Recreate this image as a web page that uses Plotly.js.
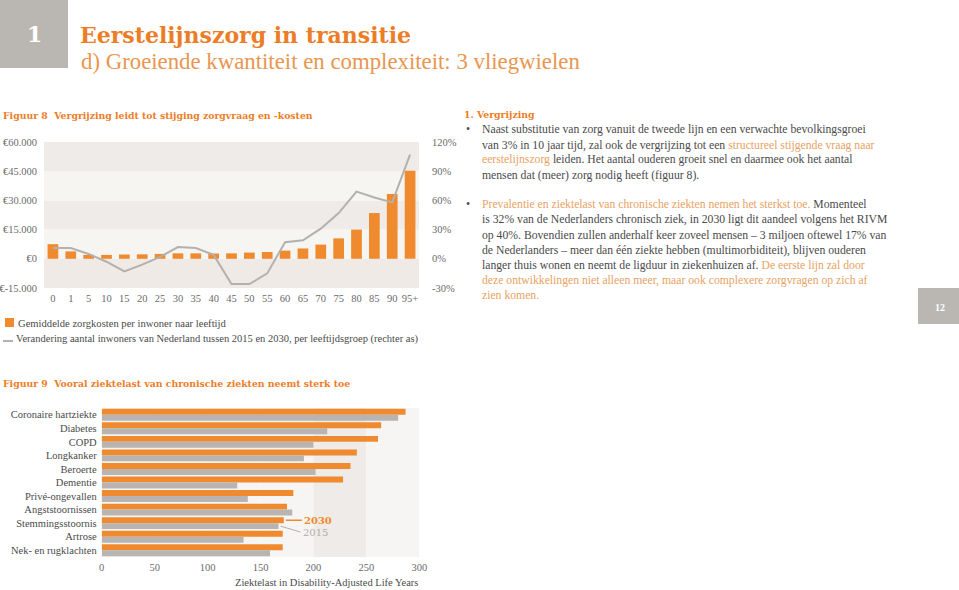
<!DOCTYPE html>
<html><head><meta charset="utf-8">
<script src="https://cdn.plot.ly/plotly-3.0.1.min.js"></script>
<style>html,body{margin:0;padding:0;background:#fff;}#chart{width:959px;height:590px;}</style>
</head><body><div id="chart"></div>
<script>
// ---- Figure 8 data ----
const ageGroups = ['0','1','5','10','15','20','25','30','35','40','45','50','55','60','65','70','75','80','85','90','95+'];
const avgCosts = [7500,3800,2000,2000,2200,2300,2500,2800,2800,2700,2800,3200,3500,4200,5300,7300,10500,15000,23500,33300,45200];
const popChange = [11,11,5,-3,-13,-6,2,12,11,4,-26,-26,-15,17,19,31,47,69,63,58,107];
const costTicks = [-15000,0,15000,30000,45000,60000];
const costTickText = ['€-15.000','€0','€15.000','€30.000','€45.000','€60.000'];
const pctTicks = [-30,0,30,60,90,120];
const pctTickText = ['-30%','0%','30%','60%','90%','120%'];

// ---- Figure 9 data ----
const diseases = ['Coronaire hartziekte','Diabetes','COPD','Longkanker','Beroerte','Dementie','Privé-ongevallen','Angststoornissen','Stemmingsstoornis','Artrose','Nek- en rugklachten'];
const daly2030 = [287,264,261,241,235,228,181,175,172,171,171];
const daly2015 = [280,213,200,191,202,128,138,180,167,134,159];
const dalyTicks = [0,50,100,150,200,250,300];

const W = 959, H = 590;
const px = x => x / W, py = y => 1 - y / H;
const ORANGE = '#f08a2e', GRAYBAR = '#b7b4b1', GRAYLINE = '#b3b0ad';
const TXT = '#4a4a4a', HL = '#e8a264', TITLE = '#ec7d27';
const SERIF = 'Liberation Serif', SLAB = 'DejaVu Serif';

const traces = [
  {type:'bar', x: ageGroups, y: avgCosts, xaxis:'x', yaxis:'y', width:0.6, marker:{color:ORANGE}, showlegend:false, hoverinfo:'skip'},
  {type:'scatter', mode:'lines', x: ageGroups, y: popChange, xaxis:'x', yaxis:'y2', line:{color:GRAYLINE, width:2}, showlegend:false, hoverinfo:'skip'},
  {type:'bar', orientation:'h', y: diseases, x: daly2030, xaxis:'x2', yaxis:'y3', marker:{color:ORANGE}, showlegend:false, hoverinfo:'skip'},
  {type:'bar', orientation:'h', y: diseases, x: daly2015, xaxis:'x2', yaxis:'y3', marker:{color:GRAYBAR}, showlegend:false, hoverinfo:'skip'}
];

const shapes = [];
// header boxes
shapes.push({type:'rect', xref:'paper', yref:'paper', x0:0, x1:px(68), y0:py(68), y1:py(0), fillcolor:'#bab7b3', line:{width:0}});
shapes.push({type:'rect', xref:'paper', yref:'paper', x0:px(918), x1:px(959), y0:py(324), y1:py(288), fillcolor:'#bab7b3', line:{width:0}});
// figure 8 background bands
const bands8 = ['#efeae6','#f6f5f2','#eeebe8','#f6f5f2','#eeebe8'];
for (let i = 0; i < costTicks.length - 1; i++) {
  shapes.push({type:'rect', xref:'x domain', yref:'y', x0:0, x1:1, y0:costTicks[i], y1:costTicks[i+1], fillcolor:bands8[i], line:{width:0}, layer:'below'});
}
// figure 9 background bands
const bands9 = ['#f6f5f3','#f6f5f3','#f6f5f3','#f6f5f3','#eeebe8','#f6f5f3'];
for (let i = 0; i < dalyTicks.length - 1; i++) {
  shapes.push({type:'rect', xref:'x2', yref:'y3 domain', x0:dalyTicks[i], x1:dalyTicks[i+1], y0:0, y1:1, fillcolor:bands9[i], line:{width:0}, layer:'below'});
}
// legend swatches fig 8
shapes.push({type:'rect', xref:'paper', yref:'paper', x0:px(5), x1:px(14), y0:py(327), y1:py(318), fillcolor:ORANGE, line:{width:0}});
shapes.push({type:'line', xref:'paper', yref:'paper', x0:px(3), x1:px(13), y0:py(341), y1:py(341), line:{color:GRAYLINE, width:2}});

function txt(x, y, text, size, color, opts) {
  return Object.assign({xref:'paper', yref:'paper', x:px(x), y:py(y), text:text, showarrow:false,
    xanchor:'left', yanchor:'middle', align:'left', font:{family:SERIF, size:size, color:color}}, opts || {});
}
const hl = s => '<span style="color:' + HL + '">' + s + '</span>';
const BS = 11.7;

const annotations = [
  txt(34, 34, '<b>1</b>', 22, '#ffffff', {xanchor:'center', font:{family:SLAB, size:22, color:'#ffffff'}}),
  txt(78, 35, '<b>Eerstelijnszorg in transitie</b>', 22, TITLE, {font:{family:SLAB, size:22, color:TITLE}}),
  txt(79, 61, 'd) Groeiende kwantiteit en complexiteit: 3 vliegwielen', 22.8, '#e99650'),
  txt(1, 115, '<b>Figuur 8  Vergrijzing leidt tot stijging zorgvraag en -kosten</b>', 9.3, TITLE, {font:{family:SLAB, size:9.3, color:TITLE}}),
  txt(1, 383, '<b>Figuur 9  Vooral ziektelast van chronische ziekten neemt sterk toe</b>', 9.3, TITLE, {font:{family:SLAB, size:9.3, color:TITLE}}),
  txt(16, 323, 'Gemiddelde zorgkosten per inwoner naar leeftijd', 10.6, TXT),
  txt(14, 339, 'Verandering aantal inwoners van Nederland tussen 2015 en 2030, per leeftijdsgroep (rechter as)', 10.5, TXT),
  txt(940, 307, '<b>12</b>', 10, '#ffffff', {xanchor:'center'}),
  txt(462, 114, '<b>1. Vergrijzing</b>', 9.3, TITLE, {font:{family:SLAB, size:9.3, color:TITLE}}),
  txt(464, 129, '•', BS, TXT),
  txt(480, 129, 'Naast substitutie van zorg vanuit de tweede lijn en een verwachte bevolkingsgroei', BS, TXT),
  txt(480, 145, 'van 3% in 10 jaar tijd, zal ook de vergrijzing tot een ' + hl('structureel stijgende vraag naar'), BS, TXT),
  txt(480, 160, hl('eerstelijnszorg') + ' leiden. Het aantal ouderen groeit snel en daarmee ook het aantal', BS, TXT),
  txt(480, 176, 'mensen dat (meer) zorg nodig heeft (figuur 8).', BS, TXT),
  txt(464, 204, '•', BS, TXT),
  txt(480, 204, hl('Prevalentie en ziektelast van chronische ziekten nemen het sterkst toe.') + ' Momenteel', BS, TXT),
  txt(480, 219, 'is 32% van de Nederlanders chronisch ziek, in 2030 ligt dit aandeel volgens het RIVM', BS, TXT),
  txt(480, 235, 'op 40%. Bovendien zullen anderhalf keer zoveel mensen – 3 miljoen oftewel 17% van', BS, TXT),
  txt(480, 250, 'de Nederlanders – meer dan één ziekte hebben (multimorbiditeit), blijven ouderen', BS, TXT),
  txt(480, 265, 'langer thuis wonen en neemt de ligduur in ziekenhuizen af. ' + hl('De eerste lijn zal door'), BS, TXT),
  txt(480, 280, hl('deze ontwikkelingen niet alleen meer, maar ook complexere zorgvragen op zich af'), BS, TXT),
  txt(480, 295, hl('zien komen.'), BS, TXT),
  txt(420, 582, 'Ziektelast in Disability-Adjusted Life Years', 10.5, TXT, {xanchor:'right'}),
  // figure 9 series labels
  {xref:'x2', yref:'y3', x: daly2030[8] + 2, y: diseases[8], yshift: 3, text:'<b>2030</b>', showarrow:true, arrowhead:0, arrowwidth:1.5, arrowcolor:ORANGE,
   ax: 16, ay: 0, xanchor:'left', yanchor:'middle', font:{family:SLAB, size:10, color:ORANGE}},
  {xref:'x2', yref:'y3', x: daly2015[8] + 2, y: diseases[8], yshift: -3, text:'2015', showarrow:true, arrowhead:0, arrowwidth:1, arrowcolor:GRAYLINE,
   ax: 20, ay: 6, xanchor:'left', yanchor:'middle', font:{family:SLAB, size:10, color:'#b0adaa'}}
];

const axisFont = {family:SERIF, size:10.5, color:'#6a6a6a'};
const layout = {
  width: W, height: H, margin:{l:0, r:0, t:0, b:0}, paper_bgcolor:'#ffffff', plot_bgcolor:'rgba(0,0,0,0)',
  font:{family:SERIF, color:TXT}, barmode:'group', bargap:0.12, bargroupgap:0, showlegend:false,
  xaxis:{domain:[px(44), px(419)], anchor:'y', type:'category', showgrid:false, zeroline:false, showline:false,
    ticks:'', tickfont:axisFont, ticklabelstandoff:2, fixedrange:true},
  yaxis:{domain:[py(288), py(142)], anchor:'x', range:[-15000,60000], tickvals:costTicks, ticktext:costTickText,
    showgrid:false, zeroline:false, ticks:'', tickfont:axisFont, ticklabelstandoff:6, fixedrange:true},
  yaxis2:{overlaying:'y', side:'right', anchor:'x', range:[-30,120], tickvals:pctTicks, ticktext:pctTickText,
    showgrid:false, zeroline:false, ticks:'', tickfont:axisFont, ticklabelstandoff:12, fixedrange:true},
  xaxis2:{domain:[px(101.7), px(419.3)], anchor:'y3', range:[0,300], tickvals:dalyTicks, showgrid:false, zeroline:false,
    ticks:'', tickfont:axisFont, ticklabelstandoff:2, fixedrange:true},
  yaxis3:{domain:[py(557), py(408)], anchor:'x2', type:'category', autorange:'reversed', showgrid:false, zeroline:false,
    ticks:'', tickfont:{family:SERIF, size:10.5, color:TXT}, ticklabelstandoff:4, fixedrange:true},
  shapes: shapes, annotations: annotations
};
Plotly.newPlot('chart', traces, layout, {staticPlot:true, displayModeBar:false});
</script></body></html>
